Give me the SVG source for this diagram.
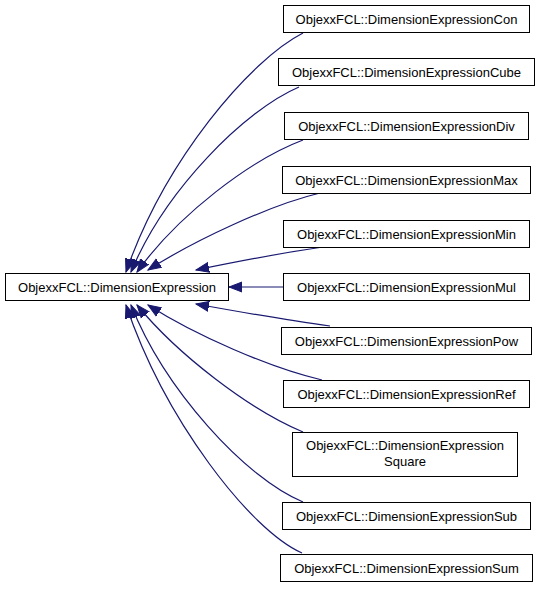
<svg xmlns="http://www.w3.org/2000/svg" width="539" height="589" viewBox="0 0 539 589">
<defs>
<style>
.node rect{fill:#ffffff;stroke:#000000;stroke-width:1}
.node text{font-family:"Liberation Sans",Arial,sans-serif;font-size:13px;fill:#000000;text-anchor:middle}
.edge{fill:none;stroke:#191970;stroke-width:1.2;marker-end:url(#arr)}
</style>
<marker id="arr" markerUnits="userSpaceOnUse" markerWidth="16" markerHeight="14" refX="13" refY="6" orient="auto" viewBox="0 0 16 14">
<polygon points="0,1 13,6 0,11" fill="#191970" stroke="#191970" stroke-width="1"/>
</marker>
</defs>
<rect width="539" height="589" fill="#ffffff"/>
<g id="connectors">
<path class="edge" d="M303,33 C250,60 165,160 126,272"/>
<path class="edge" d="M299,87 C245,110 165,190 131,272"/>
<path class="edge" d="M303,140 C250,160 178,215 137,272"/>
<path class="edge" d="M320,193 C270,205 195,240 148,270"/>
<path class="edge" d="M323,247 C280,253 235,262 196,270"/>
<path class="edge" d="M283,287 L229,287"/>
<path class="edge" d="M330,326 C285,320 240,312 196,304"/>
<path class="edge" d="M322,380 C270,368 195,335 148,305"/>
<path class="edge" d="M303,432 C250,410 178,355 137,305"/>
<path class="edge" d="M303,502 C245,478 165,390 131,305"/>
<path class="edge" d="M302,553 C250,530 165,420 126,305"/>
</g>
<g id="n_base" class="node"><rect x="5.5" y="273.5" width="223" height="27"/><text x="117" y="291.5">ObjexxFCL::DimensionExpression</text></g>
<g id="n_con" class="node"><rect x="283.5" y="5.5" width="246" height="27"/><text x="406.5" y="23.5">ObjexxFCL::DimensionExpressionCon</text></g>
<g id="n_cube" class="node"><rect x="278.5" y="58.5" width="256" height="27"/><text x="406.5" y="76.5">ObjexxFCL::DimensionExpressionCube</text></g>
<g id="n_div" class="node"><rect x="284.5" y="112.5" width="244" height="27"/><text x="406.5" y="130.5">ObjexxFCL::DimensionExpressionDiv</text></g>
<g id="n_max" class="node"><rect x="282.5" y="166.5" width="248" height="27"/><text x="406.5" y="184.5">ObjexxFCL::DimensionExpressionMax</text></g>
<g id="n_min" class="node"><rect x="283.5" y="220.5" width="246" height="27"/><text x="406.5" y="238.5">ObjexxFCL::DimensionExpressionMin</text></g>
<g id="n_mul" class="node"><rect x="283.5" y="273.5" width="246" height="27"/><text x="406.5" y="291.5">ObjexxFCL::DimensionExpressionMul</text></g>
<g id="n_pow" class="node"><rect x="281.5" y="327.5" width="250" height="27"/><text x="406.5" y="345.5">ObjexxFCL::DimensionExpressionPow</text></g>
<g id="n_ref" class="node"><rect x="283.5" y="380.5" width="246" height="27"/><text x="406.5" y="398.5">ObjexxFCL::DimensionExpressionRef</text></g>
<g id="n_square" class="node"><rect x="292.5" y="432.5" width="225" height="44"/><text x="405" y="450">ObjexxFCL::DimensionExpression</text><text x="405" y="465.5">Square</text></g>
<g id="n_sub" class="node"><rect x="282.5" y="502.5" width="248" height="27"/><text x="406.5" y="520.5">ObjexxFCL::DimensionExpressionSub</text></g>
<g id="n_sum" class="node"><rect x="280.5" y="554.5" width="252" height="27"/><text x="406.5" y="572.5">ObjexxFCL::DimensionExpressionSum</text></g>
</svg>
